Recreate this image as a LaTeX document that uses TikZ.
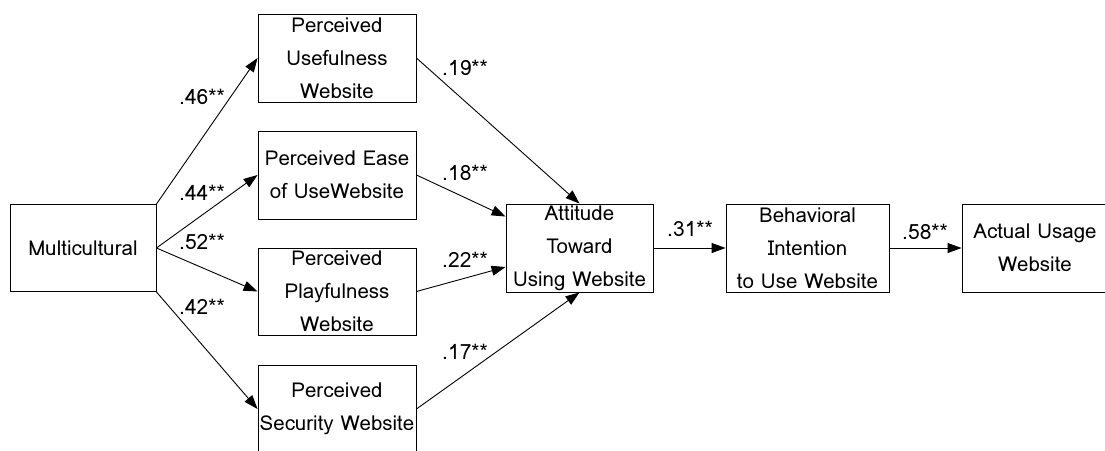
\documentclass[tikz,border=0pt]{standalone}
\usepackage{fontspec}
\setmainfont{Loma}
\usetikzlibrary{arrows.meta}
\begin{document}
\begin{tikzpicture}[x=1pt,y=-1pt,
  box/.style={draw,line width=0.9pt,inner sep=0pt,align=center,
    font=\fontsize{20.5}{33}\selectfont},
  lbl/.style={inner sep=0pt,font=\fontsize{21}{24}\selectfont},
  arr/.style={line width=0.9pt,-{Triangle[length=14pt,width=10pt]}}]
\useasboundingbox (0,0) rectangle (1105,450);
\clip (0,0) rectangle (1105,450);
\node[box,minimum width=146pt,minimum height=87pt] (M) at (83,248) {Multicultural};
\node[box,minimum width=158pt,minimum height=88pt] (PU) at (337,58) {Perceived\\Usefulness\\Website};
\node[box,minimum width=158pt,minimum height=88pt] (PE) at (337,175) {Perceived Ease\\of UseWebsite};
\node[box,minimum width=158pt,minimum height=87pt] (PP) at (337,291.5) {Perceived\\Playfulness\\Website};
\node[box,minimum width=158pt,minimum height=88pt] (PS) at (337,409) {Perceived\\Security Website};
\node[box,minimum width=147pt,minimum height=88pt] (AT) at (579.5,248) {Attitude\\Toward\\Using Website};
\node[box,minimum width=163pt,minimum height=88pt] (BI) at (807.5,248) {Behavioral\\Intention\\to Use Website};
\node[box,minimum width=146pt,minimum height=88pt] (AU) at (1035,248) {Actual Usage\\Website};
\draw[arr] (M.north east) -- (PU.west);
\draw[arr] (M.east) -- (PE.west);
\draw[arr] (M.east) -- (PP.west);
\draw[arr] (M.south east) -- (PS.west);
\draw[arr] (PU.east) -- (AT.north);
\draw[arr] (PE.east) -- ([yshift=-13pt]AT.north west);
\draw[arr] (PP.east) -- ([yshift=-19pt]AT.west);
\draw[arr] (PS.east) -- (AT.south);
\draw[arr] (AT.east) -- (BI.west);
\draw[arr] (BI.east) -- (AU.west);
\node[lbl] (l1) at (202,97) {.46**};
\node[lbl] (l2) at (202,193) {.44**};
\node[lbl] (l3) at (202,242) {.52**};
\node[lbl] (l4) at (202,307) {.42**};
\node[lbl] (l5) at (465,68) {.19**};
\node[lbl] (l6) at (465,173) {.18**};
\node[lbl] (l7) at (465,260) {.22**};
\node[lbl] (l8) at (465,352) {.17**};
\node[lbl] (l9) at (690,229) {.31**};
\node[lbl] (l10) at (925,232) {.58**};
\end{tikzpicture}
\end{document}
